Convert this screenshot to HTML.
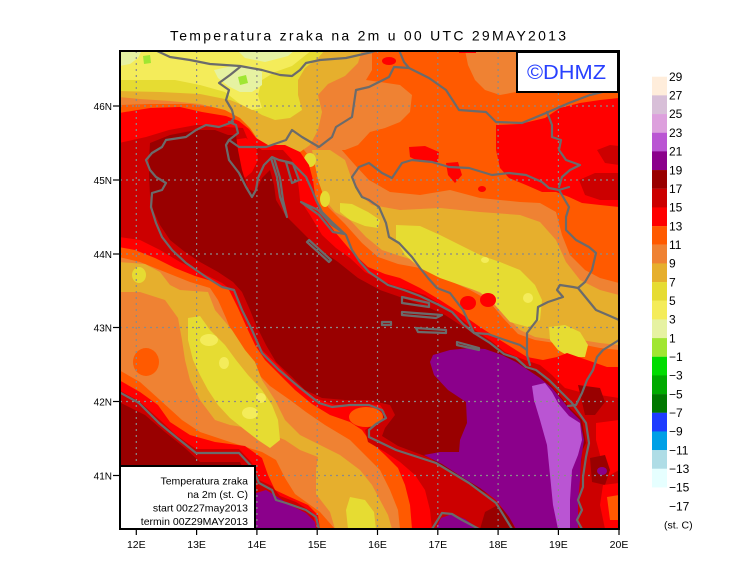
<!DOCTYPE html>
<html><head><meta charset="utf-8">
<style>
html,body{margin:0;padding:0;background:#fff}
svg{display:block}
text{font-family:"Liberation Sans",sans-serif;fill:#000}
</style></head>
<body>
<svg width="740" height="582" viewBox="0 0 740 582" xmlns="http://www.w3.org/2000/svg">
<defs><clipPath id="c"><rect x="120" y="51" width="499" height="478"/></clipPath></defs>
<rect width="740" height="582" fill="#fff"/>
<text x="170" y="40.5" font-size="14" textLength="396" lengthAdjust="spacing">Temperatura zraka na 2m u 00 UTC 29MAY2013</text>

<g clip-path="url(#c)">
<rect x="119" y="50" width="501" height="480" fill="#FF5A00"/>
<!-- C11 -->
<g fill="#EF8233">
<polygon points="119,50 372,50 372,70 366,80 380,82 400,85 412,95 410,112 400,122 385,128 370,132 358,145 345,150 320,150 300,148 280,145 262,140 250,128 238,115 220,108 190,104 150,104 119,105"/>
<polygon points="465,50 516,50 516,92 500,95 485,90 475,80 468,65"/>
<polygon points="300,145 340,148 355,165 369,180 390,192 420,195 450,190 480,198 520,202 540,203 556,212 562,235 570,255 585,270 600,278 619,283 619,350 600,348 575,343 555,343 535,340 518,334 503,318 488,300 470,290 448,280 420,268 398,264 378,257 362,243 345,224 328,207 322,185 316,165"/>
<polygon points="119,257 140,262 165,272 190,282 210,288 218,300 226,318 234,338 244,355 256,372 270,386 290,400 306,412 325,425 350,440 365,455 380,470 390,490 398,510 400,529 335,529 320,512 295,494 285,478 276,460 262,452 230,442 200,432 182,420 160,400 140,382 119,370"/>
</g>
<!-- C9 -->
<g fill="#E6AF2D">
<polygon points="119,50 362,50 358,63 345,76 328,84 318,95 322,112 318,130 310,145 300,152 285,150 270,148 258,140 250,128 240,118 225,110 200,104 170,101 140,99 119,97"/>
<polygon points="312,150 330,150 345,160 352,180 360,195 372,205 400,210 440,208 480,212 520,215 540,222 556,240 566,262 580,280 600,290 619,295 619,345 600,343 575,339 555,340 535,337 520,330 505,315 490,298 470,288 448,277 420,262 400,256 382,250 366,237 350,220 335,212 325,200 318,180"/>
<polygon points="119,262 145,264 160,272 170,285 180,290 208,292 215,310 232,330 245,350 255,362 262,380 275,400 285,420 300,435 320,445 340,455 360,470 372,485 380,500 388,515 392,529 335,529 330,512 316,494 316,470 318,457 300,450 285,440 260,430 230,425 215,420 200,400 190,380 185,360 182,340 178,318 165,300 140,292 119,292"/>
</g>
<ellipse cx="146" cy="362" rx="13" ry="14" fill="#FF5A00"/>
<!-- C7 -->
<g fill="#E6DC32">
<polygon points="119,50 325,50 318,58 305,68 298,80 298,95 302,110 290,118 275,120 262,115 250,108 230,100 200,94 160,92 119,91"/>
<polygon points="396,225 420,226 440,235 460,245 480,255 500,262 520,270 535,285 542,300 540,320 528,327 510,322 495,305 480,292 460,285 440,278 420,268 405,255 396,240"/>
<polygon points="549,327 565,325 580,332 588,345 585,357 570,357 558,350 550,340"/>
<polygon points="188,318 200,316 210,330 225,345 236,360 248,375 262,390 272,405 278,420 280,440 270,448 258,440 245,430 230,418 218,405 208,390 200,375 193,360 188,340"/>
<polygon points="350,497 365,500 374,512 376,529 348,529 346,510"/>
<polygon points="340,203 352,204 368,212 380,220 378,228 365,226 350,220 340,212"/>
<ellipse cx="310" cy="160" rx="6" ry="7"/>
<ellipse cx="325" cy="199" rx="5" ry="8"/>
<ellipse cx="139" cy="275" rx="7" ry="8"/>
</g>
<!-- C5 -->
<g fill="#F4EC5A">
<polygon points="119,50 312,50 302,58 292,66 275,72 262,80 258,95 262,108 252,110 240,104 225,92 200,85 175,80 150,80 119,80"/>
<ellipse cx="209" cy="340" rx="9" ry="6"/>
<ellipse cx="224" cy="363" rx="5" ry="6"/>
<ellipse cx="250" cy="413" rx="8" ry="6"/>
<ellipse cx="261" cy="398" rx="5" ry="5"/>
<ellipse cx="528" cy="298" rx="5" ry="5"/>
<ellipse cx="485" cy="260" rx="4" ry="3"/>
</g>
<!-- C3 -->
<g fill="#E6F2A2">
<polygon points="119,50 142,50 138,58 130,64 119,66"/>
<polygon points="214,70 232,66 250,66 262,72 262,85 252,92 240,92 228,86 218,78"/>
<polygon points="237,50 295,50 288,56 265,62 245,58"/>
</g>
<g fill="#A0E632">
<polygon points="143,56 150,55 151,63 144,64"/>
<polygon points="238,77 246,75 248,83 240,85"/>
</g>

<!-- C15 -->
<g fill="#FF0000">
<polygon points="119,113 150,108 180,107 202,112 226,116 239,121 249,129 256,138 268,145 285,145 300,152 309,165 313,180 315,195 320,212 335,232 352,252 368,267 385,274 400,278 420,288 440,300 460,313 480,327 500,340 527,357 543,360 557,357 567,353 587,360 607,367 619,367 619,529 412,529 410,505 405,485 398,468 385,455 369,440 362,430 350,422 330,415 312,404 295,390 280,375 265,360 255,345 247,328 238,308 229,290 215,282 195,276 175,268 155,258 135,250 119,247"/>
<ellipse cx="468" cy="303" rx="8" ry="7"/>
<ellipse cx="488" cy="300" rx="8" ry="7"/>
<polygon points="496,125 520,124 545,118 560,108 580,103 600,100 619,98 619,207 600,205 582,203 569,197 556,192 542,192 526,185 509,178 500,168 496,150"/>
<polygon points="409,147 425,146 439,152 438,162 420,162 410,157"/>
<polygon points="446,163 458,162 462,175 455,183 448,175"/>
<ellipse cx="482" cy="189" rx="4" ry="3"/>
<ellipse cx="389" cy="61" rx="7" ry="4"/>
<rect x="459" y="50" width="17" height="3"/>
</g>
<!-- C17 -->
<g fill="#CC0000">
<polygon points="119,143 146,137 169,130 196,125 212,125 226,127 243,128 248,140 262,150 283,150 292,160 297,175 299,190 300,200 310,215 322,235 336,248 350,258 365,272 380,280 395,286 410,290 425,295 440,304 460,318 475,330 490,340 505,352 525,360 540,365 552,375 565,388 580,392 600,395 619,398 619,529 432,529 430,510 425,490 415,475 400,462 385,452 368,442 365,430 376,422 385,412 380,405 360,404 335,405 315,398 296,384 278,365 262,350 252,330 243,310 234,292 222,283 200,272 180,262 160,250 140,240 119,237"/>
<polygon points="597,150 610,145 619,146 619,165 605,163"/>
<polygon points="579,180 595,173 619,173 619,200 600,200 585,195"/>
</g>
<polygon fill="#FF0000" points="232,140 246,138 256,146 258,160 252,172 245,178 238,168 233,155"/>
<!-- C19 -->
<g fill="#990000">
<polygon points="150,143 170,135 196,130 215,130 228,135 236,135 238,150 242,170 248,189 256,192 262,178 270,170 274,185 276,200 285,215 300,230 318,248 338,262 358,278 380,290 400,297 425,306 445,315 465,328 485,340 505,355 520,362 535,370 548,382 560,396 570,408 582,420 586,443 582,451 580,477 576,500 578,529 518,529 512,515 500,500 480,490 455,475 430,458 398,446 382,436 385,428 395,415 390,405 369,400 345,400 322,398 305,390 292,377 276,362 266,345 256,325 250,310 242,292 233,282 218,272 200,262 185,252 170,240 160,225 153,210 150,195 149,175 149,160"/>
<polygon points="480,529 485,512 498,505 510,515 515,529"/>
</g>
<!-- Tyrrhenian -->
<polygon fill="#FF0000" points="119,380 140,392 158,405 170,422 190,435 215,442 245,446 262,458 268,475 275,490 290,497 308,505 318,515 320,529 119,529"/>
<polygon fill="#CC0000" points="119,390 139,401 160,420 176,435 196,449 239,449 252,463 259,480 272,486 280,496 296,502 312,512 317,529 119,529"/>
<polygon fill="#990000" points="119,402 145,415 165,432 185,448 200,462 240,462 248,478 254,492 270,500 290,512 305,520 310,529 119,529"/>
<polygon fill="#8B008B" points="256,493 266,490 276,496 290,505 306,513 315,522 316,529 256,529"/>
<ellipse cx="366" cy="417" rx="17" ry="10" fill="#FF5A00"/>
<!-- Adriatic purple -->
<polygon fill="#8B008B" points="433,355 450,350 470,348 485,349 502,355 516,362 528,370 540,378 552,388 562,400 570,410 580,420 584,440 581,460 580,480 578,500 578,529 516,529 509,517 496,500 480,488 462,477 442,464 424,455 440,452 459,452 460,440 467,423 466,402 448,390 434,375 430,362"/>
<polygon fill="#8B008B" points="436,529 441,518 452,514 465,519 479,529"/>
<polygon fill="#BA55D3" points="532,386 545,383 552,392 558,403 569,416 580,423 582,440 578,455 572,470 570,500 570,529 558,529 553,505 550,475 547,445 540,420 534,400"/>
<!-- right side patches -->
<polygon fill="#990000" points="578,385 600,388 605,402 595,415 585,415"/>
<polygon fill="#FF0000" points="596,423 619,420 619,470 605,478 600,455 596,440"/>
<polygon fill="#990000" points="590,458 605,455 610,470 605,485 592,482"/>
<ellipse cx="602" cy="471" rx="5" ry="4" fill="#8B008B"/>
<polygon fill="#FF0000" points="603,485 619,483 619,529 605,529 600,505"/>
<polygon fill="#FF5A00" points="607,497 619,495 619,520 610,520"/>

<!-- grid -->
<g stroke="#8a8a8a" stroke-width="1.2" stroke-dasharray="2 4" fill="none">
<line x1="136.3" y1="51" x2="136.3" y2="529"/>
<line x1="196.6" y1="51" x2="196.6" y2="529"/>
<line x1="256.9" y1="51" x2="256.9" y2="529"/>
<line x1="317.2" y1="51" x2="317.2" y2="529"/>
<line x1="377.5" y1="51" x2="377.5" y2="529"/>
<line x1="437.8" y1="51" x2="437.8" y2="529"/>
<line x1="498.1" y1="51" x2="498.1" y2="529"/>
<line x1="558.4" y1="51" x2="558.4" y2="529"/>
<line x1="120" y1="106" x2="619" y2="106"/>
<line x1="120" y1="180" x2="619" y2="180"/>
<line x1="120" y1="254" x2="619" y2="254"/>
<line x1="120" y1="327.5" x2="619" y2="327.5"/>
<line x1="120" y1="401.5" x2="619" y2="401.5"/>
<line x1="120" y1="475.5" x2="619" y2="475.5"/>
</g>

<!-- coastlines / borders -->
<g fill="none" stroke="#6b6b6b" stroke-width="2.2" stroke-linejoin="round" stroke-linecap="round">
<polyline points="233,122 219,127 206,125 196,130 186,137 166,140 162,147 152,153 146,160 150,170 156,177 166,183 162,190 152,193 151,207 156,223 162,237 172,250 186,263 206,277 222,287 234,290 242,310 252,330 262,353 279,370 299,387 319,403 332,407 350,405 369,405 382,410 386,418 376,424 369,430 369,437 396,450 436,463 469,483 496,503 512,529"/>
<polyline points="229,122 236,125 238,133 229,140 226,145 229,160 239,173 246,187 252,197 256,190 258,178 264,165 272,157 279,160 292,163 306,177 312,190 316,200 322,212 332,222 346,235 352,250 360,262 369,272 388,285 404,290 420,296 439,305 452,312 463,324 474,333 490,343 504,354 516,358 526,367 536,370 549,380 562,393 572,403 586,423 589,443 586,457 583,477 583,487 578,500 582,510 577,520 582,529"/>
<polygon points="271,158 277,177 280,197 287,217 283,200 280,178 274,158"/>
<polygon points="286,162 292,183 299,180 293,164"/>
<polygon points="301,202 319,215 333,232 345,234 332,225 318,210"/>
<polygon points="307,242 329,262 331,260 309,240"/>
<polygon points="402,297 429,303 429,307 402,303"/>
<polygon points="402,312 442,315 436,318 402,315"/>
<polygon points="382,322 391,322 391,325 382,325"/>
<polygon points="416,328 446,330 446,333 418,332"/>
<polygon points="457,342 479,348 479,350 457,345"/>
<polyline points="119,392 139,403 159,423 176,437 196,453 219,453 239,453 252,467 259,483 272,490 276,500 286,503 306,510 316,517 319,529"/>
<polyline points="432,529 442,513 452,514 462,520 479,529"/>
<polyline points="155,50 170,57 190,60 210,64 240,66 262,70 280,75 292,76 300,70 306,63 320,60 346,58 372,52 378,50"/>
<polyline points="240,67 230,75 219,83 229,90 226,100 232,110 234,118 231,122"/>
<polyline points="229,140 239,147 266,147 286,140 292,130 302,137 319,147 332,137 336,127 352,117 356,90 369,87 389,77 394,67 409,68"/>
<polyline points="399,50 404,62 409,68 429,78 446,90 459,110 486,112 496,122 522,123 546,113 569,103 590,95 619,88"/>
<polyline points="547,112 552,125 552,137 561,140 559,150 566,160 580,165 570,170 562,177 559,187"/>
<polyline points="369,200 362,197 356,187 352,177 359,167 369,163 382,173 392,178 402,163 412,160 432,162 449,167 469,168 492,175 509,173 526,175 542,182 549,188 559,190 569,187"/>
<polyline points="559,190 569,207 566,217 566,230 576,240 589,247 596,253 592,270 585,282 578,288 596,310 610,316 619,320"/>
<polyline points="578,288 573,287 560,285 557,290 563,297 548,302 538,307 537,320 527,333 527,355 530,365"/>
<polyline points="369,200 379,207 386,223 389,237 399,243 412,257 420,268 428,278 437,288 450,293 463,310 474,333"/>
<polyline points="474,333 488,334 505,340 520,345 527,350"/>
<polyline points="619,340 603,350 597,357 593,370 587,380 582,393 576,405 568,406"/>
</g>
</g>

<!-- frame -->
<rect x="120" y="51" width="499" height="478" fill="none" stroke="#000" stroke-width="2"/>
<!-- ticks -->
<g stroke="#000" stroke-width="1.2">
<line x1="113" y1="106" x2="119" y2="106"/>
<line x1="113" y1="180" x2="119" y2="180"/>
<line x1="113" y1="254" x2="119" y2="254"/>
<line x1="113" y1="327.5" x2="119" y2="327.5"/>
<line x1="113" y1="401.5" x2="119" y2="401.5"/>
<line x1="113" y1="475.5" x2="119" y2="475.5"/>
<line x1="136.3" y1="530" x2="136.3" y2="535"/>
<line x1="196.6" y1="530" x2="196.6" y2="535"/>
<line x1="256.9" y1="530" x2="256.9" y2="535"/>
<line x1="317.2" y1="530" x2="317.2" y2="535"/>
<line x1="377.5" y1="530" x2="377.5" y2="535"/>
<line x1="437.8" y1="530" x2="437.8" y2="535"/>
<line x1="498.1" y1="530" x2="498.1" y2="535"/>
<line x1="558.4" y1="530" x2="558.4" y2="535"/>
<line x1="619" y1="530" x2="619" y2="535"/>
</g>
<g font-size="10" text-anchor="end">
<text x="112" y="110">46N</text>
<text x="112" y="184">45N</text>
<text x="112" y="258">44N</text>
<text x="112" y="331.5">43N</text>
<text x="112" y="405.5">42N</text>
<text x="112" y="479.5">41N</text>
</g>
<g font-size="10.5" text-anchor="middle">
<text x="136.3" y="548">12E</text>
<text x="196.6" y="548">13E</text>
<text x="256.9" y="548">14E</text>
<text x="317.2" y="548">15E</text>
<text x="377.5" y="548">16E</text>
<text x="437.8" y="548">17E</text>
<text x="498.1" y="548">18E</text>
<text x="558.4" y="548">19E</text>
<text x="619" y="548">20E</text>
</g>

<!-- DHMZ box -->
<rect x="517" y="52" width="101" height="40" fill="#fff" stroke="#000" stroke-width="2"/>
<text x="527" y="79" font-size="20" style="fill:#2840FF" textLength="79" lengthAdjust="spacingAndGlyphs">©DHMZ</text>

<!-- legend box -->
<rect x="120" y="466" width="135" height="63" fill="#fff" stroke="#000" stroke-width="2"/>
<g font-size="10.5" text-anchor="end">
<text x="248" y="484.5">Temperatura zraka</text>
<text x="248" y="498">na 2m (st. C)</text>
<text x="248" y="511.5">start 00z27may2013</text>
<text x="248" y="525">termin 00Z29MAY2013</text>
</g>

<!-- colorbar -->
<g>
<rect x="652" y="76.70" width="15" height="18.8" fill="#FFEDDB"/>
<rect x="652" y="95.37" width="15" height="18.8" fill="#D8BFD8"/>
<rect x="652" y="114.04" width="15" height="18.8" fill="#DDA0DD"/>
<rect x="652" y="132.71" width="15" height="18.8" fill="#BA55D3"/>
<rect x="652" y="151.38" width="15" height="18.8" fill="#8B008B"/>
<rect x="652" y="170.05" width="15" height="18.8" fill="#990000"/>
<rect x="652" y="188.72" width="15" height="18.8" fill="#CC0000"/>
<rect x="652" y="207.39" width="15" height="18.8" fill="#FF0000"/>
<rect x="652" y="226.06" width="15" height="18.8" fill="#FF5A00"/>
<rect x="652" y="244.73" width="15" height="18.8" fill="#EF8233"/>
<rect x="652" y="263.40" width="15" height="18.8" fill="#E6AF2D"/>
<rect x="652" y="282.07" width="15" height="18.8" fill="#E6DC32"/>
<rect x="652" y="300.74" width="15" height="18.8" fill="#F4EC5A"/>
<rect x="652" y="319.41" width="15" height="18.8" fill="#E6F2A2"/>
<rect x="652" y="338.08" width="15" height="18.8" fill="#A0E632"/>
<rect x="652" y="356.75" width="15" height="18.8" fill="#00DC00"/>
<rect x="652" y="375.42" width="15" height="18.8" fill="#00AA00"/>
<rect x="652" y="394.09" width="15" height="18.8" fill="#007800"/>
<rect x="652" y="412.76" width="15" height="18.8" fill="#1E3CFF"/>
<rect x="652" y="431.43" width="15" height="18.8" fill="#00A0E6"/>
<rect x="652" y="450.10" width="15" height="18.8" fill="#AFDDE6"/>
<rect x="652" y="468.77" width="15" height="18.67" fill="#E6FFFF"/>
</g>
<g font-size="12">
<text x="669" y="80.9">29</text>
<text x="669" y="99.6">27</text>
<text x="669" y="118.2">25</text>
<text x="669" y="136.9">23</text>
<text x="669" y="155.6">21</text>
<text x="669" y="174.3">19</text>
<text x="669" y="192.9">17</text>
<text x="669" y="211.6">15</text>
<text x="669" y="230.3">13</text>
<text x="669" y="248.9">11</text>
<text x="669" y="267.6">9</text>
<text x="669" y="286.3">7</text>
<text x="669" y="304.9">5</text>
<text x="669" y="323.6">3</text>
<text x="669" y="342.3">1</text>
<text x="669" y="361.0">−1</text>
<text x="669" y="379.6">−3</text>
<text x="669" y="398.3">−5</text>
<text x="669" y="417.0">−7</text>
<text x="669" y="435.6">−9</text>
<text x="669" y="454.3">−11</text>
<text x="669" y="473.0">−13</text>
<text x="669" y="491.6">−15</text>
<text x="669" y="510.3">−17</text>
</g>
<text x="664" y="528.5" font-size="10.5">(st. C)</text>
</svg>
</body></html>
